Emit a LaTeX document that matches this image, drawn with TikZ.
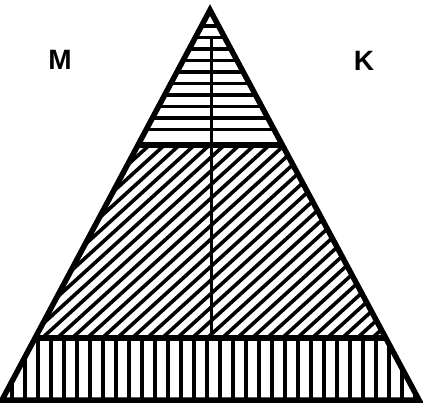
\documentclass[tikz,border=0pt]{standalone}
\usepackage{fontspec}
\setmainfont{Liberation Sans}
\begin{document}
\begin{tikzpicture}[x=1pt,y=-1pt,
  outline/.style={line width=5.5pt,line join=miter},
  hatch/.style={line width=3.6pt},
  lbl/.style={font=\fontsize{28}{30}\selectfont\bfseries,inner sep=0pt}]
\useasboundingbox (0,0) rectangle (423,405);
\coordinate (A) at (210,10);
\coordinate (L) at (2,400);
\coordinate (R) at (419,400);
% top region: horizontal lines
\begin{scope}
  \clip (A) -- (L) -- (R) -- cycle;
  \clip (0,0) rectangle (423,145);
  \foreach \y in {26,37.5,49,60.5,72,83.5,95,106.5,118,129.5}
    \draw[hatch] (0,\y) -- (423,\y);
\end{scope}
% middle region: diagonal hatching
\begin{scope}
  \clip (A) -- (L) -- (R) -- cycle;
  \clip (0,145) rectangle (423,338);
  \foreach \i in {-260,-245,...,440}
    \draw[hatch] (\i,340) -- ++(220,-200);
\end{scope}
% bottom region: vertical lines
\begin{scope}
  \clip (A) -- (L) -- (R) -- cycle;
  \clip (0,338) rectangle (423,400);
  \foreach \x in {12,25,...,420}
    \draw[hatch] (\x,338) -- (\x,400);
\end{scope}
% dividers
\path (A) -- (L) coordinate[pos=0.346] (d1l) coordinate[pos=0.841] (d2l);
\path (A) -- (R) coordinate[pos=0.346] (d1r) coordinate[pos=0.841] (d2r);
\draw[outline] (d1l) -- (d1r);
\draw[outline] (d2l) -- (d2r);
% vertical axis
\coordinate (v1) at (211,38);
\coordinate (v2) at (211,338);
\draw[line width=3pt] (v1) -- (v2);
% outline
\draw[outline] (A) -- (L) -- (R) -- cycle;
% labels
\node[lbl] (M) at (60,60) {M};
\node[lbl] (K) at (364,61) {K};
\end{tikzpicture}
\end{document}
